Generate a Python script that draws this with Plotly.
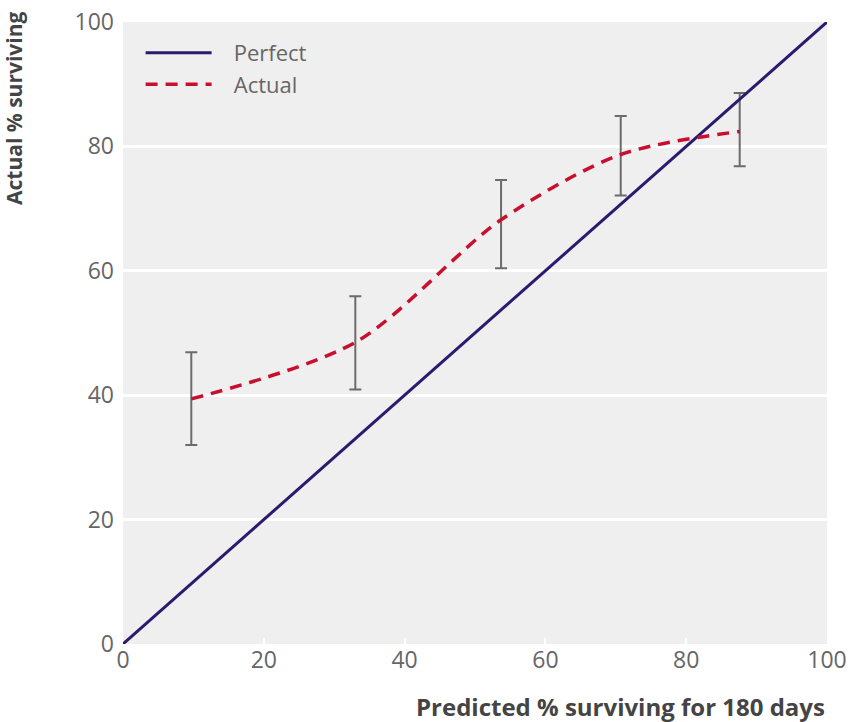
import plotly.graph_objects as go

# Data
perfect_x = [0, 100]
perfect_y = [0, 100]
pred = [9.7, 33.0, 53.7, 70.7, 87.6]
actual = [39.4, 48.5, 68.2, 78.7, 82.4]
ci_upper = [46.9, 55.9, 74.6, 84.9, 88.6]
ci_lower = [32.0, 40.9, 60.4, 72.1, 76.8]
tick_vals = [0, 20, 40, 60, 80, 100]

err_plus = [u - a for u, a in zip(ci_upper, actual)]
err_minus = [a - l for a, l in zip(actual, ci_lower)]

FONT = "Open Sans"
PAD = "\u00a0\u00a0\u00a0"

fig = go.Figure()

fig.add_trace(go.Scatter(
    x=pred, y=actual, mode="markers",
    marker=dict(size=1, color="rgba(0,0,0,0)"),
    error_y=dict(type="data", symmetric=False, array=err_plus, arrayminus=err_minus,
                 color="#6b6b6b", thickness=2, width=6),
    showlegend=False, hoverinfo="skip",
))

fig.add_trace(go.Scatter(
    x=perfect_x, y=perfect_y, mode="lines", name=PAD + "Perfect",
    line=dict(color="#2b1a6e", width=3),
))

fig.add_trace(go.Scatter(
    x=pred, y=actual, mode="lines", name=PAD + "Actual",
    line=dict(color="#c8102e", width=3.5, dash="12px,8px", shape="spline", smoothing=0.85),
))

fig.update_layout(
    width=853, height=722,
    margin=dict(l=123, r=26, t=22, b=78),
    paper_bgcolor="white",
    plot_bgcolor="#efefef",
    font=dict(family=FONT, color="#666666", size=23),
    legend=dict(x=0.025, y=0.984, xanchor="left", yanchor="top",
                bgcolor="rgba(0,0,0,0)", font=dict(size=22, color="#666666"),
                tracegroupgap=0, itemwidth=66),
    xaxis=dict(range=[0, 100], tickvals=tick_vals, showgrid=False, zeroline=False,
               showline=False, ticks="inside", tickcolor="white", ticklen=6, tickwidth=2,
               automargin=False, tickfont=dict(size=23, color="#666666")),
    yaxis=dict(range=[0, 100], tickvals=tick_vals, showgrid=True, gridcolor="white",
               gridwidth=2.5, zeroline=False, showline=False, ticks="",
               automargin=False, ticklabelstandoff=8, tickfont=dict(size=23, color="#666666")),
    annotations=[
        dict(text="<b>Predicted % surviving for 180 days</b>", xref="paper", yref="paper",
             x=1.0, y=-0.131, xanchor="right", yanchor="bottom", showarrow=False,
             font=dict(size=24, color="#444444", family=FONT)),
        dict(text="<b>Actual % surviving</b>", xref="paper", yref="paper",
             x=-0.155, y=1.02, xanchor="center", yanchor="top", textangle=-90,
             showarrow=False, font=dict(size=21, color="#444444", family=FONT)),
    ],
)

fig.write_html("out.html")
